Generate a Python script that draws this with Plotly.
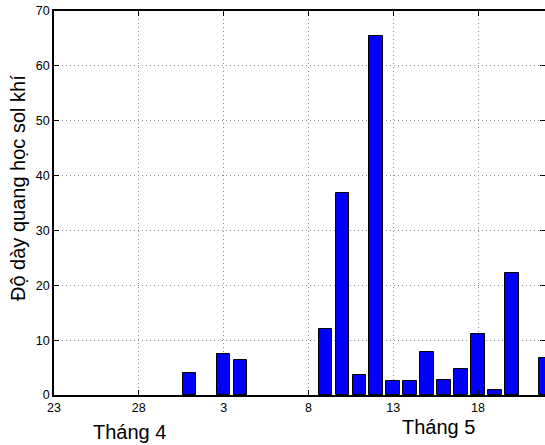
import plotly.graph_objects as go

# Daily aerosol optical depth, late April - May (days without a value are omitted)
may_days = [1, 3, 4, 9, 10, 11, 12, 13, 14, 15, 16, 17, 18, 19, 20, 22]
aod_values = [4.0, 7.5, 6.3, 12.0, 36.8, 3.7, 65.4, 2.6, 2.5, 7.9, 2.8, 4.8,
              11.2, 0.9, 22.3, 6.7]

# Tick dates as (month, day)
tick_dates = [(4, 23), (4, 28), (5, 3), (5, 8), (5, 13), (5, 18)]
month_labels = ["Tháng 4", "Tháng 5"]
y_title = "Độ dày quang học sol khí"

START_DAY = 23          # April 23 is day 0
APRIL_LEN = 30


def day_offset(month, day):
    return day - START_DAY if month == 4 else day + APRIL_LEN - START_DAY


bar_x = [day_offset(5, d) for d in may_days]
tick_x = [day_offset(m, d) for m, d in tick_dates]
tick_text = [str(d) for _, d in tick_dates]

W, H = 545, 445
ML, MR, MT, MB = 54, 0, 11, 50
plot_w = W - ML - MR
plot_h = H - MT - MB

fig = go.Figure()
fig.add_trace(go.Bar(
    x=bar_x, y=aod_values, width=0.8,
    marker=dict(color="#0000ff", line=dict(color="#000000", width=1)),
    showlegend=False,
))

axis_font = dict(family="Liberation Sans, Arial, sans-serif", size=12.5, color="#000000")
grid_style = dict(showgrid=True, gridcolor="#8c8c8c", griddash="1px,3px", gridwidth=1)

fig.update_layout(
    width=W, height=H,
    margin=dict(l=ML, r=MR, t=MT, b=MB, pad=0),
    paper_bgcolor="white", plot_bgcolor="white",
    bargap=0,
    xaxis=dict(
        range=[0, 28.95],
        tickmode="array", tickvals=tick_x, ticktext=tick_text,
        ticks="inside", ticklen=5, tickcolor="#000000", tickwidth=1,
        showline=True, linecolor="#000000", linewidth=1.5, mirror="ticks",
        zeroline=False, tickfont=axis_font, **grid_style,
    ),
    yaxis=dict(
        range=[0, 70], tickmode="linear", tick0=0, dtick=10,
        ticks="inside", ticklen=5, tickcolor="#000000", tickwidth=1,
        showline=True, linecolor="#000000", linewidth=1.5, mirror=False,
        zeroline=False, tickfont=axis_font, **grid_style,
    ),
    yaxis2=dict(
        overlaying="y", side="right", anchor="x",
        range=[0, 70], tickmode="linear", tick0=0, dtick=10,
        ticks="inside", ticklen=5, tickcolor="#000000", tickwidth=1,
        showticklabels=False, showline=False, showgrid=False, zeroline=False,
    ),
)

fig.add_trace(go.Scatter(x=[], y=[], yaxis="y2", showlegend=False, hoverinfo="skip"))


def px_to_paper_x(px):
    return (px - ML) / plot_w


def px_to_paper_y(py):
    return (H - MB - py) / plot_h


label_font = dict(family="Liberation Sans, Arial, sans-serif", size=20, color="#000000")

fig.add_annotation(
    text=y_title, textangle=-90, showarrow=False,
    xref="paper", yref="paper",
    x=px_to_paper_x(18), y=px_to_paper_y(188),
    xanchor="center", yanchor="middle", font=label_font,
)
fig.add_annotation(
    text=month_labels[0], showarrow=False,
    xref="paper", yref="paper",
    x=px_to_paper_x(129), y=px_to_paper_y(432),
    xanchor="center", yanchor="middle", font=label_font,
)
fig.add_annotation(
    text=month_labels[1], showarrow=False,
    xref="paper", yref="paper",
    x=px_to_paper_x(438), y=px_to_paper_y(427),
    xanchor="center", yanchor="middle", font=label_font,
)

fig.write_html("out.html")
